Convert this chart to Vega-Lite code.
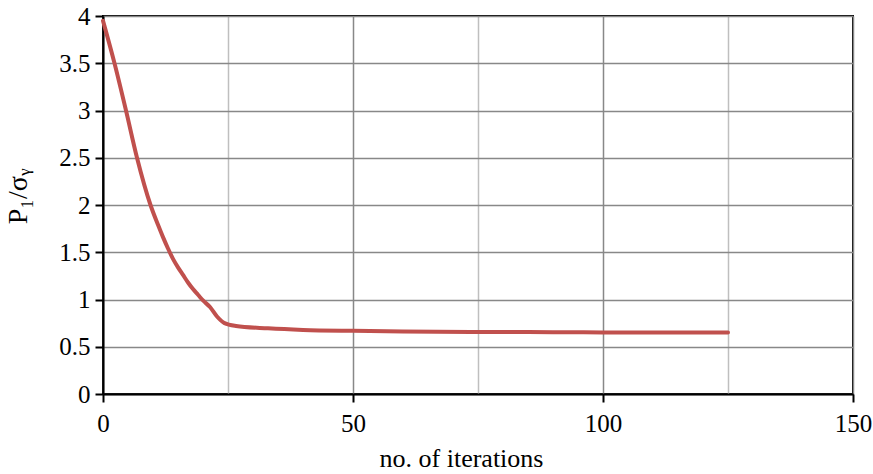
{
  "$schema": "https://vega.github.io/schema/vega-lite/v6.json",
  "autosize": {"type": "none"},
  "width": 750,
  "height": 378,
  "padding": {"left": 103, "top": 16, "right": 20, "bottom": 80},
  "background": "white",
  "config": {
    "view": {"stroke": "black", "strokeWidth": 2},
    "font": "Liberation Serif"
  },
  "data": {
    "values": [
      {"iter": 0, "val": 3.95},
      {"iter": 2.3, "val": 3.5},
      {"iter": 4.6, "val": 3.0},
      {"iter": 6.8, "val": 2.5},
      {"iter": 9.5, "val": 2.0},
      {"iter": 11, "val": 1.79},
      {"iter": 12, "val": 1.66},
      {"iter": 13, "val": 1.54},
      {"iter": 14, "val": 1.43},
      {"iter": 15, "val": 1.34},
      {"iter": 16, "val": 1.26},
      {"iter": 17, "val": 1.18},
      {"iter": 18, "val": 1.11},
      {"iter": 19, "val": 1.05},
      {"iter": 20, "val": 0.99},
      {"iter": 21.4, "val": 0.92},
      {"iter": 22.8, "val": 0.82},
      {"iter": 24.3, "val": 0.75},
      {"iter": 26.6, "val": 0.72},
      {"iter": 33, "val": 0.695},
      {"iter": 40, "val": 0.678},
      {"iter": 50, "val": 0.668},
      {"iter": 60, "val": 0.662},
      {"iter": 75, "val": 0.657},
      {"iter": 90, "val": 0.654},
      {"iter": 100, "val": 0.652},
      {"iter": 110, "val": 0.652},
      {"iter": 125, "val": 0.651}
    ]
  },
  "mark": {"type": "line", "color": "#C0504D", "strokeWidth": 4, "interpolate": "monotone", "strokeCap": "round"},
  "encoding": {
    "x": {
      "field": "iter",
      "type": "quantitative",
      "scale": {"domain": [0, 150], "nice": false},
      "axis": {
        "title": "no. of iterations",
        "values": [0, 25, 50, 75, 100, 125, 150],
        "labelExpr": "datum.value % 50 === 0 ? datum.label : ''",
        "labelFlush": false,
        "labelFont": "Liberation Serif",
        "labelFontSize": 25,
        "labelColor": "black",
        "labelPadding": 9,
        "titleFont": "Liberation Serif",
        "titleFontSize": 26,
        "titleFontWeight": "normal",
        "titleColor": "black",
        "titlePadding": 9,
        "titleX": 358,
        "domainColor": "black",
        "domainWidth": 2,
        "tickColor": "black",
        "tickWidth": 2,
        "tickSize": 8,
        "tickOpacity": {"condition": {"test": "datum.value % 50 === 0", "value": 1}, "value": 0},
        "grid": true,
        "gridColor": {"condition": {"test": "datum.value % 50 === 0", "value": "#888888"}, "value": "#bfbfbf"},
        "gridWidth": 1.5
      }
    },
    "y": {
      "field": "val",
      "type": "quantitative",
      "scale": {"domain": [0, 4], "nice": false},
      "axis": {
        "title": "P₁/σᵧ",
        "values": [0, 0.5, 1, 1.5, 2, 2.5, 3, 3.5, 4],
        "format": "~g",
        "labelFlush": false,
        "labelFont": "Liberation Serif",
        "labelFontSize": 25,
        "labelColor": "black",
        "labelPadding": 5,
        "titleFont": "Liberation Serif",
        "titleFontSize": 28,
        "titleFontWeight": "normal",
        "titleColor": "black",
        "titlePadding": 26,
        "titleY": 180,
        "domainColor": "black",
        "domainWidth": 2,
        "tickColor": "black",
        "tickWidth": 2,
        "tickSize": 8,
        "grid": true,
        "gridColor": "#888888",
        "gridWidth": 1.5
      }
    }
  }
}
